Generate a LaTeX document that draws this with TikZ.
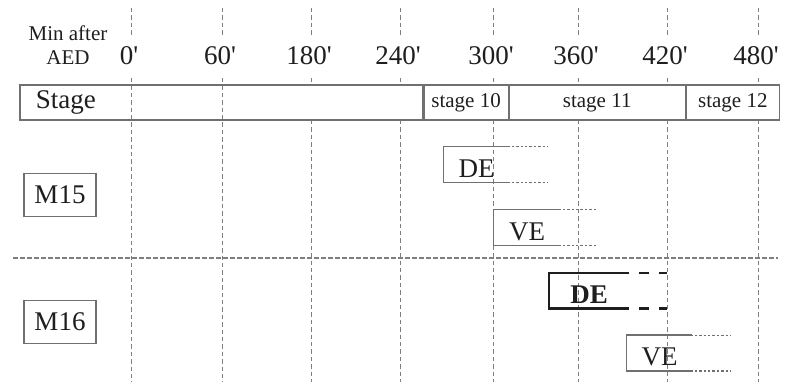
\documentclass[tikz,border=0pt]{standalone}
\usepackage{fontspec}
\setmainfont{Liberation Serif}
\usetikzlibrary{positioning,calc}
\definecolor{gridGray}{HTML}{7E7E7E}
\definecolor{boxGray}{HTML}{707070}
\definecolor{inkDark}{HTML}{1E1E1E}

\begin{document}
\begin{tikzpicture}[x=0.5pt,y=-0.5pt,
    timeline/.style={draw=gridGray,line width=0.5pt,dash pattern=on 2.2pt off 1.5pt},
    rowline/.style={draw=gridGray,line width=0.55pt,dash pattern=on 2.5pt off 1pt},
    cell/.style={draw=boxGray,line width=0.55pt,minimum height=17.5pt,inner sep=0pt,
                 text=inkDark,font=\fontsize{10.5}{12}\selectfont},
    tag/.style={draw=boxGray,line width=0.6pt,minimum width=36pt,minimum height=21.5pt,
                inner sep=0pt,font=\fontsize{13.5}{15}\selectfont,text=inkDark},
    span/.style={minimum height=17.5pt,inner sep=0pt,text height=12.5pt,text depth=0pt,
                 font=\fontsize{13.5}{15}\selectfont,text=inkDark},
    bracket/.style={draw=boxGray,line width=0.65pt},
    trail/.style={draw=boxGray,line width=0.6pt,dash pattern=on 1.2pt off 1pt,dash phase=1pt},
    bigtxt/.style={font=\fontsize{13.5}{15}\selectfont,text=inkDark,inner sep=0pt},
    smalltxt/.style={font=\fontsize{10.5}{12}\selectfont,text=inkDark,inner sep=0pt}]

  \useasboundingbox (0,0) rectangle (790,382);

  % time axis
  \node[smalltxt] (minafter) at (68,33) {Min after};
  \node[smalltxt] (aed) at (68,58) {AED};
  \foreach \t/\px in {0/131,60/222,180/311,240/400,300/493,360/578,420/667,480/758}{
    \coordinate (top\t) at (\px,8);
    \node[bigtxt] (t\t) at (\px-2,56) {\t\textquotesingle};
    \draw[timeline] (top\t) -- (\px,35);
  }
  \foreach \px in {131,222}
    \draw[timeline] (\px,78) -- (\px,382);
  \foreach \px in {311,400,493,578,667,758}{
    \draw[timeline] (\px,78) -- (\px,85);
    \draw[timeline] (\px,120) -- (\px,382);
  }

  % stage row
  \node[cell,minimum width=201.5pt] (stage) at (221.5,102.5) {};
  \node[bigtxt,anchor=west] (stagelbl) at ([xshift=8pt]stage.west) {Stage};
  \node[cell,minimum width=42pt,right=0pt of stage] (st10) {stage 10};
  \node[cell,minimum width=88pt,right=0pt of st10] (st11) {stage 11};
  \node[cell,minimum width=46.5pt,right=0pt of st11] (st12) {stage 12};

  % rows
  \coordinate (sepL) at (13,258);
  \coordinate (sepR) at (778,258);
  \draw[rowline] (sepL) -- (sepR);
  \node[tag] (m15) at (60,195) {M15};
  \node[tag] (m16) at (60,322) {M16};

  % M15
  \node[span,minimum width=32.5pt] (de15) at (476.5,164.5) {DE};
  \draw[bracket] (de15.north east) -- (de15.north west) -- (de15.south west) -- (de15.south east);
  \draw[trail] (de15.north east) -- ++(39,0);
  \draw[trail] (de15.south east) -- ++(39,0);

  \node[span,minimum width=33pt] (ve15) at (527,227.5) {VE};
  \draw[bracket] (ve15.north east) -- (ve15.north west) -- (ve15.south west) -- (ve15.south east);
  \draw[trail] (ve15.north east) -- ++(37,0);
  \draw[trail] (ve15.south east) -- ++(37,0);

  % M16
  \node[span,minimum width=40pt] (de16) at (589,290.5) {\textbf{DE}};
  \draw[bracket,draw=inkDark,line width=1.1pt] (de16.north east) -- (de16.north west)
    -- (de16.south west) -- (de16.south east);
  \draw[inkDark,line width=1.1pt,dash pattern=on 5pt off 5pt,dash phase=5pt]
    (de16.north east) -- ++(38,0);
  \draw[inkDark,line width=1.1pt,dash pattern=on 5pt off 5pt,dash phase=5pt]
    (de16.south east) -- ++(38,0);

  \node[span,minimum width=32.5pt] (ve16) at (659.5,353) {VE};
  \draw[bracket] (ve16.north east) -- (ve16.north west) -- (ve16.south west) -- (ve16.south east);
  \draw[trail] (ve16.north east) -- ++(38,0);
  \draw[trail] (ve16.south east) -- ++(38,0);
\end{tikzpicture}
\end{document}
